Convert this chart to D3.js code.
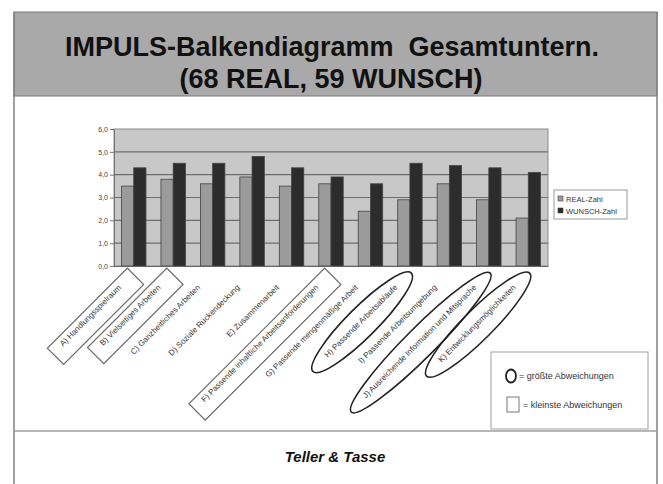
<!DOCTYPE html>
<html>
<head>
<meta charset="utf-8">
<script src="https://cdn.jsdelivr.net/npm/d3@7"></script>
<style>
  body { margin: 0; background: #fff; }
  svg { display: block; font-family: "Liberation Sans", Arial, sans-serif; }
</style>
</head>
<body>
<div id="chart"></div>
<script>
// categories and values
var categories = ["A) Handlungsspielraum", "B) Vielseitiges Arbeiten", "C) Ganzheitliches Arbeiten",
  "D) Soziale Rückendeckung", "E) Zusammenarbeit", "F) Passende inhaltliche Arbeitsanforderungen",
  "G) Passende mengenmäßige Arbeit", "H) Passende Arbeitsabläufe", "I) Passende Arbeitsumgebung",
  "J) Ausreichende Information und Mitsprache", "K) Entwicklungsmöglichkeiten"];
var realValues = [3.5, 3.8, 3.6, 3.9, 3.5, 3.6, 2.4, 2.9, 3.6, 2.9, 2.1];
var wunschValues = [4.3, 4.5, 4.5, 4.8, 4.3, 3.9, 3.6, 4.5, 4.4, 4.3, 4.1];
var seriesNames = ["REAL-Zahl", "WUNSCH-Zahl"];
var yTicks = [0, 1, 2, 3, 4, 5, 6];
// hand-drawn marks: boxes = smallest gaps, ellipses = largest gaps
var boxedCats = ["A) Handlungsspielraum", "B) Vielseitiges Arbeiten", "F) Passende inhaltliche Arbeitsanforderungen"];
var circledCats = ["H) Passende Arbeitsabläufe", "J) Ausreichende Information und Mitsprache", "K) Entwicklungsmöglichkeiten"];

var width = 663, height = 484;
var colors = {"REAL-Zahl": "#9b9b9b", "WUNSCH-Zahl": "#2c2c2c"};

var svg = d3.select("#chart").append("svg")
  .attr("width", width)
  .attr("height", height);

// page frame and title band
svg.append("rect")
  .attr("x", 14).attr("y", 12).attr("width", 643).attr("height", 84)
  .style("fill", "#a9a9a9").style("stroke", "#7a7a7a");
svg.append("line").attr("x1", 14).attr("x2", 14).attr("y1", 12).attr("y2", height)
  .style("stroke", "#808080").style("stroke-width", 1.5);
svg.append("line").attr("x1", 657).attr("x2", 657).attr("y1", 12).attr("y2", height)
  .style("stroke", "#808080").style("stroke-width", 1.5);
svg.append("line").attr("x1", 14).attr("x2", 657).attr("y1", 431).attr("y2", 431)
  .style("stroke", "#a0a0a0").style("stroke-width", 1.5);

svg.append("text")
  .attr("x", 332).attr("y", 56)
  .style("text-anchor", "middle").style("font-weight", "bold").style("font-size", "27px")
  .style("white-space", "pre").style("fill", "#111")
  .text("IMPULS-Balkendiagramm  Gesamtuntern.");
svg.append("text")
  .attr("x", 331).attr("y", 88)
  .style("text-anchor", "middle").style("font-weight", "bold").style("font-size", "27px")
  .style("fill", "#111")
  .text("(68 REAL, 59 WUNSCH)");

svg.append("text")
  .attr("x", 335).attr("y", 462)
  .style("text-anchor", "middle").style("font-weight", "bold").style("font-style", "italic")
  .style("font-size", "15px").style("fill", "#111")
  .text("Teller & Tasse");

// scales
var plot = {left: 114, right: 548, top: 129, bottom: 266};

var x0 = d3.scaleBand()
  .domain(categories)
  .range([plot.left, plot.right])
  .paddingInner(0.38)
  .paddingOuter(0.19);

var x1 = d3.scaleBand()
  .domain(seriesNames)
  .range([0, x0.bandwidth()]);

var y = d3.scaleLinear()
  .domain([0, 6])
  .range([plot.bottom, plot.top]);

var de = d3.formatLocale({decimal: ",", thousands: ".", grouping: [3], currency: ["", "€"]});

// plot area
svg.append("rect")
  .attr("x", plot.left).attr("y", plot.top)
  .attr("width", plot.right - plot.left).attr("height", plot.bottom - plot.top)
  .style("fill", "#c8c8c8").style("stroke", "#8c8c8c");

var yAxis = d3.axisLeft(y)
  .tickValues(yTicks)
  .tickSize(4)
  .tickFormat(de.format(".1f"));

var gy = svg.append("g")
  .attr("transform", "translate(" + plot.left + ",0)")
  .call(yAxis);
gy.select(".domain").style("stroke", "#777");
gy.selectAll(".tick line").style("stroke", "#777");
gy.selectAll(".tick text").style("font-size", "7px").style("fill", "#444").attr("x", -6);

// gridlines
svg.append("g").selectAll("line.grid")
  .data(yTicks.filter(function (d) { return d > 0 && d < 6; }))
  .enter()
  .append("line")
  .attr("class", "grid")
  .attr("x1", plot.left).attr("x2", plot.right)
  .attr("y1", function (d) { return y(d); })
  .attr("y2", function (d) { return y(d); })
  .style("stroke", "#6e6e6e").style("stroke-width", 1.2);

// bars
var rows = categories.map(function (c, i) {
  return {cat: c, values: [{key: "REAL-Zahl", value: realValues[i]}, {key: "WUNSCH-Zahl", value: wunschValues[i]}]};
});

svg.append("g").selectAll("g")
  .data(rows)
  .enter()
  .append("g")
  .attr("transform", function (d) { return "translate(" + x0(d.cat) + ",0)"; })
  .selectAll("rect")
  .data(function (d) { return d.values; })
  .enter()
  .append("rect")
  .attr("x", function (d) { return x1(d.key); })
  .attr("width", x1.bandwidth())
  .attr("y", function (d) { return y(d.value); })
  .attr("height", function (d) { return y(0) - y(d.value); })
  .style("fill", function (d) { return colors[d.key]; })
  .style("stroke", "#444").style("stroke-width", 0.8);

// category axis, labels rotated -45
var xAxis = d3.axisBottom(x0).tickSize(0);
var gx = svg.append("g")
  .attr("transform", "translate(0," + plot.bottom + ")")
  .call(xAxis);
gx.select(".domain").style("stroke", "#666");
var labelX = -24, labelY = 7;
gx.selectAll(".tick text")
  .attr("transform", "rotate(-45)")
  .attr("x", labelX).attr("y", labelY).attr("dy", null)
  .style("text-anchor", "end")
  .style("font-size", "8px")
  .style("fill", "#333");

// hand-drawn boxes and ellipses round some labels
gx.selectAll(".tick").each(function (d) {
  var tick = d3.select(this);
  var len = tick.select("text").node().getComputedTextLength();
  var g = tick.append("g").attr("transform", "rotate(-45)");
  if (boxedCats.indexOf(d) >= 0) {
    g.append("rect")
      .attr("x", labelX - len - 12).attr("y", -3)
      .attr("width", len + 12 + 18).attr("height", 23)
      .style("fill", "none").style("stroke", "#6a6a6a").style("stroke-width", 1.2);
  }
  if (circledCats.indexOf(d) >= 0) {
    g.append("ellipse")
      .attr("cx", labelX - len / 2).attr("cy", 6)
      .attr("rx", len / 2 + 20).attr("ry", 15)
      .style("fill", "none").style("stroke", "#222").style("stroke-width", 1.6);
  }
});

// chart legend
var legend = svg.append("g").attr("transform", "translate(554,190)");
legend.append("rect")
  .attr("width", 73).attr("height", 29)
  .style("fill", "#fff").style("stroke", "#9a9a9a");
legend.selectAll("g")
  .data(seriesNames)
  .enter()
  .append("g")
  .attr("transform", function (d, i) { return "translate(4," + (9 + i * 12) + ")"; })
  .each(function (d) {
    var g = d3.select(this);
    g.append("rect").attr("x", 0).attr("y", -3).attr("width", 5).attr("height", 5)
      .style("fill", colors[d]).style("stroke", "#444").style("stroke-width", 0.6);
    g.append("text").attr("x", 8).attr("y", 2.5)
      .style("font-size", "7.5px").style("fill", "#333").text(d);
  });

// annotation key
var key = svg.append("g").attr("transform", "translate(491,352)");
key.append("rect")
  .attr("width", 157).attr("height", 77)
  .style("fill", "#fff").style("stroke", "#a0a0a0");
key.append("ellipse").attr("cx", 20).attr("cy", 24).attr("rx", 5).attr("ry", 6.5)
  .style("fill", "none").style("stroke", "#222").style("stroke-width", 1.8);
key.append("text").attr("x", 28).attr("y", 27)
  .style("font-size", "9px").style("fill", "#333").text("= größte Abweichungen");
key.append("rect").attr("x", 16).attr("y", 45).attr("width", 12).attr("height", 15)
  .style("fill", "none").style("stroke", "#777").style("stroke-width", 1);
key.append("text").attr("x", 32).attr("y", 56)
  .style("font-size", "9px").style("fill", "#333").text("= kleinste Abweichungen");
</script>
</body>
</html>
